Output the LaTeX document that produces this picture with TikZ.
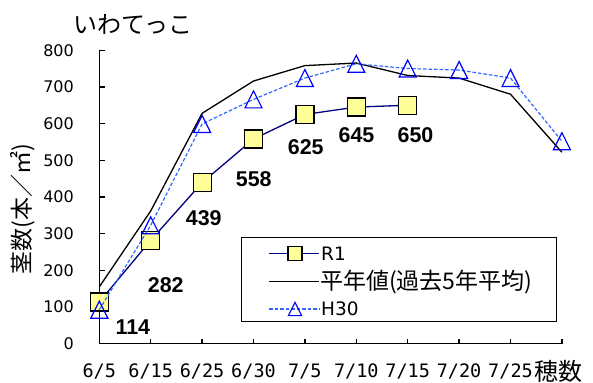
\documentclass[tikz,border=0pt]{standalone}
\usepackage{fontspec}
\usepackage{graphicx}
\setmainfont{DejaVu Sans}
\newfontfamily\jp{Noto Sans CJK JP}
\newfontfamily\monofnt{DejaVu Sans Mono}
\newfontfamily\labfnt{Liberation Sans}
\definecolor{navyc}{RGB}{0,0,128}
\definecolor{sqfill}{RGB}{255,255,153}
\definecolor{triblue}{RGB}{0,0,255}
\definecolor{dashblue}{RGB}{51,102,255}
\tikzset{
  axisline/.style={line width=1.3pt, black},
  navyline/.style={line width=1.3pt, navyc},
  avgline/.style={line width=1.3pt, black},
  h30line/.style={line width=1.2pt, dashblue, dash pattern=on 3.5pt off 2pt},
  sqmark/.style={rectangle, draw=black, fill=sqfill, line width=1.2pt, minimum size=18pt, inner sep=0pt},
  trimark/.pic={\draw[triblue, line width=1.2pt, line join=miter] (-8.5,8.5) -- (8.5,8.5) -- (0,-8.5) -- cycle;},
  ticklab/.style={font=\fontsize{16}{16}\selectfont, anchor=east, inner sep=0pt},
  xlab/.style={font=\monofnt\fontsize{18.5}{18.5}\selectfont, inner sep=0pt},
  vallab/.style={font=\labfnt\bfseries\fontsize{21.4}{21.4}\selectfont, inner sep=0pt},
  legtext/.style={anchor=west, inner sep=0pt}
}
\begin{document}
\begin{tikzpicture}[x=1pt,y=-1pt]
\useasboundingbox (0,0) rectangle (593,382);
% title
\node[font=\jp\fontsize{24}{24}\selectfont, inner sep=0pt] (title) at (133,24) {いわてっこ};
% y axis title
\node[font=\jp\fontsize{23}{23}\selectfont, rotate=90, inner sep=0pt] (ytitle) at (22.5,209) {茎数(本／㎡)};
% axes
\draw[axisline] (99.3,50.2) -- (99.3,343.8) -- (561.9,343.8);
\foreach \v in {100,200,...,800}
  \draw[axisline] (99.3,{343.8-0.367*\v}) -- ++(6,0);
\foreach \i in {1,...,9}
  \draw[axisline] ({99.3+51.4*\i},343.8) -- ++(0,-5);
\foreach \v in {0,100,...,800}
  \node[ticklab] (yl\v) at (74,{343.8-0.367*\v}) {\v};
\foreach \t [count=\i from 0] in {6/5,6/15,6/25,6/30,7/5,7/10,7/15,7/20,7/25}
  \node[xlab] (xl\i) at ({99.3+51.4*\i},371.7) {\t};
\node[font=\jp\fontsize{24}{24}\selectfont, inner sep=0pt] (xl9) at (558.5,371.2) {穂数};
% data coordinates
\foreach \v [count=\i from 0] in {114,282,439,558,625,645,650}
  \coordinate (r\i) at ({99.3+51.4*\i},{343.8-0.367*\v});
\foreach \v [count=\i from 0] in {155,362,628,716,758,765,731,724,680,522}
  \coordinate (a\i) at ({99.3+51.4*\i},{343.8-0.367*\v});
\foreach \v [count=\i from 0] in {93,323,599,666,724,763,750,746,724,552}
  \coordinate (h\i) at ({99.3+51.4*\i},{343.8-0.367*\v});
% R1
\draw[navyline] (r0) -- (r1) -- (r2) -- (r3) -- (r4) -- (r5) -- (r6);
\foreach \i in {0,...,6}
  \node[sqmark] (sq\i) at (r\i) {};
% average
\draw[avgline] (a0) -- (a1) -- (a2) -- (a3) -- (a4) -- (a5) -- (a6) -- (a7) -- (a8) -- (a9);
% H30
\draw[h30line] (h0) -- (h1) -- (h2) -- (h3) -- (h4) -- (h5) -- (h6) -- (h7) -- (h8) -- (h9);
\foreach \i in {0,...,9}
  \pic at (h\i) {trimark};
% value labels
\node[vallab] (v0) at (132.8,326.8) {114};
\node[vallab] (v1) at (165.8,285) {282};
\node[vallab] (v2) at (203.8,217.8) {439};
\node[vallab] (v3) at (253.7,179.2) {558};
\node[vallab] (v4) at (305.8,147.5) {625};
\node[vallab] (v5) at (356.5,135.5) {645};
\node[vallab] (v6) at (415.5,135.5) {650};
% legend
\node[draw=black, fill=white, line width=1pt, minimum width=314.7pt, minimum height=83.7pt, inner sep=0pt, anchor=north west] (legend) at (241,237.3) {};
\coordinate (l1a) at (269.3,253.3); \coordinate (l1b) at (319.3,253.3);
\coordinate (l2a) at (269.3,281.7); \coordinate (l2b) at (319.3,281.7);
\coordinate (l3a) at (269.3,309); \coordinate (l3b) at (319.3,309);
\draw[navyline] (l1a) -- (l1b);
\node[sqmark, minimum size=14pt] (lsq) at (295,253.3) {};
\draw[avgline] (l2a) -- (l2b);
\draw[h30line] (l3a) -- (l3b);
\pic[scale=0.78] at (295,309) {trimark};
\node[legtext, font=\fontsize{18.5}{18.5}\selectfont] (t1) at (321,253.3) {R1};
\node[legtext, font=\jp\fontsize{23}{23}\selectfont] (t2) at (320,281.7) {平年値(過去5年平均)};
\node[legtext, font=\fontsize{18.5}{18.5}\selectfont] (t3) at (321,309) {H30};
\end{tikzpicture}
\end{document}
